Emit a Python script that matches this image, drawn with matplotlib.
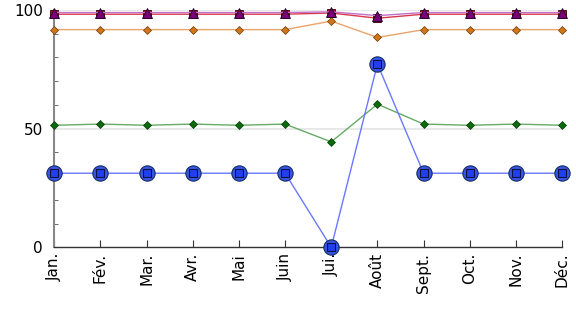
import matplotlib
matplotlib.use("Agg")
import matplotlib.pyplot as plt
from matplotlib.ticker import MultipleLocator

months = ["Jan.", "Fév.", "Mar.", "Avr.", "Mai", "Juin", "Jui.", "Août", "Sept.", "Oct.", "Nov.", "Déc."]
blue = [31.2, 31.2, 31.2, 31.2, 31.2, 31.2, 0, 77.2, 31.2, 31.2, 31.2, 31.2]
green = [51.4, 51.9, 51.4, 51.9, 51.4, 51.9, 44.4, 60.3, 51.9, 51.4, 51.9, 51.4]
orange = [91.7, 91.7, 91.7, 91.7, 91.7, 91.7, 95.3, 88.4, 91.7, 91.7, 91.7, 91.7]
red = [98.2, 98.2, 98.2, 98.2, 98.2, 98.2, 98.7, 96.5, 98.2, 98.2, 98.2, 98.2]
purple = [98.9, 98.9, 98.9, 98.9, 98.9, 98.9, 99.2, 97.6, 98.9, 98.9, 98.9, 98.9]

x = list(range(len(months)))

fig = plt.figure(figsize=(5.76, 3.31), dpi=100)
ax = fig.add_axes([0.094, 0.253, 0.882, 0.717])

ax.axhline(50, color="#e4e4e4", lw=1.2, zorder=0)
ax.axhline(100, color="#e4e4e4", lw=1.2, zorder=0)

ax.plot(x, orange, color="#eba46a", lw=1.0, marker="D", ms=4, mfc="#d2761a", mec="#6a3a0a", mew=0.5, clip_on=False, zorder=3)
ax.plot(x, green, color="#66aa66", lw=1.0, marker="D", ms=4, mfc="#0b6a0b", mec="#053a05", mew=0.5, clip_on=False, zorder=3)
ax.plot(x, red, color="#d83a4a", lw=1.0, marker="s", ms=6, mfc="#b01020", mec="#300000", mew=0.6, clip_on=False, zorder=4)
ax.plot(x, purple, color="#c070c8", lw=1.0, marker="^", ms=7, mfc="#7a007a", mec="#200020", mew=0.6, clip_on=False, zorder=5)
ax.plot(x, blue, color="#6a78ff", lw=1.0, marker="o", ms=11, mfc="#3358e8", mec="#1a2a60", mew=0.8, clip_on=False, zorder=6)
ax.plot(x, blue, lw=0, marker="s", ms=6, mfc="#2040f0", mec="#101040", mew=0.8, clip_on=False, zorder=7)

ax.set_xlim(0, 11)
ax.set_ylim(0, 100)
ax.set_xticks(x)
ax.set_xticklabels(months, rotation=90, fontsize=11)
ax.set_yticks([0, 50, 100])
ax.set_yticklabels(["0", "50", "100"], fontsize=11)
ax.yaxis.set_minor_locator(MultipleLocator(10))
ax.tick_params(axis="x", direction="in", length=5, color="#333333", pad=4)
ax.tick_params(axis="y", which="major", length=0, pad=8)
ax.tick_params(axis="y", which="minor", direction="in", length=3, color="#555555")

for s in ["top", "right"]:
    ax.spines[s].set_visible(False)
ax.spines["left"].set_color("#888888")
ax.spines["left"].set_linewidth(1.5)
ax.spines["bottom"].set_color("#333333")
ax.spines["bottom"].set_linewidth(1.0)

fig.savefig("out.png", dpi=100)
